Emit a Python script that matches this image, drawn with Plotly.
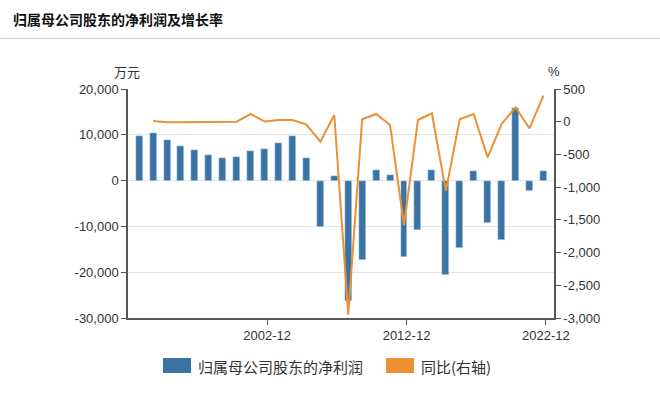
import plotly.graph_objects as go

# ---------------- data ----------------
periods = ["1993-12", "1994-12", "1995-12", "1996-12", "1997-12", "1998-12",
           "1999-12", "2000-12", "2001-12", "2002-12", "2003-12", "2004-12",
           "2005-12", "2006-12", "2007-12", "2008-12", "2009-12", "2010-12",
           "2011-12", "2012-12", "2013-12", "2014-12", "2015-12", "2016-12",
           "2017-12", "2018-12", "2019-12", "2020-12", "2021-12", "2022-12"]

net_profit = [9700, 10400, 8950, 7500, 6600, 5600,
              4950, 5200, 6550, 7000, 8300, 9750,
              4950, -10200, 1000, -26200, -17250, 2300,
              1250, -16700, -10700, 2300, -20700, -14800,
              2200, -9250, -12900, 15900, -2200, 2200]

yoy = [None, 10, -10, -10, -10, -10,
       -2, 0, 118, 5, 25, 25,
       -45, -306, 103, -2950, 37, 118,
       -50, -1580, 26, 128, -1060, 37,
       118, -545, -35, 220, -102, 398]

x_tick_labels = ["2002-12", "2012-12", "2022-12"]
left_tick_values = [-30000, -20000, -10000, 0, 10000, 20000]
right_tick_values = [-3000, -2500, -2000, -1500, -1000, -500, 0, 500]

title_text = "归属母公司股东的净利润及增长率"
left_unit = "万元"
right_unit = "%"
name_profit = "归属母公司股东的净利润"
name_yoy = "同比(右轴)"

# ---------------- style / layout ----------------
BLUE = "#3a74a5"
ORANGE = "#ec9035"
AXIS = "#555555"
GRID = "#e3e3e3"
TXT = "#333333"
CJK = "Noto Sans CJK SC"
LAT = "Liberation Sans, Noto Sans CJK SC"

W_PX, H_PX = 660, 403
L, R, T, B = 128, 554, 89, 318
PW, PH = R - L, B - T


def px(x):
    return (x - L) / PW


def py(y):
    return (B - y) / PH


xs = list(range(len(periods)))
tick_pos = [periods.index(t) + 0.18 for t in x_tick_labels]

fig = go.Figure()
fig.add_trace(go.Bar(x=xs, y=net_profit, name=name_profit, marker_color=BLUE,
                     width=0.5, showlegend=False))
fig.add_trace(go.Scatter(x=xs, y=yoy, name=name_yoy, yaxis="y2", mode="lines",
                         line=dict(color=ORANGE, width=2), showlegend=False,
                         connectgaps=False))

fig.update_layout(
    width=W_PX, height=H_PX,
    margin=dict(l=L, r=W_PX - R, t=T, b=H_PX - B, pad=0),
    paper_bgcolor="white", plot_bgcolor="white",
    font=dict(family=LAT, size=13, color=TXT),
    showlegend=False,
    bargap=0,
    xaxis=dict(range=[-0.8, len(periods) - 0.24], tickmode="array",
               tickvals=tick_pos, ticktext=x_tick_labels,
               showline=True, linecolor=AXIS, linewidth=1.5,
               ticks="outside", ticklen=5, tickcolor=AXIS, tickwidth=1,
               showgrid=False, zeroline=False,
               tickfont=dict(size=13, color=TXT)),
    yaxis=dict(range=[-30000, 20000], tickmode="array",
               tickvals=left_tick_values,
               ticktext=[f"{v:,}" for v in left_tick_values],
               showline=True, linecolor=AXIS, linewidth=1.5,
               ticks="outside", ticklen=5, tickcolor=AXIS,
               showgrid=True, gridcolor=GRID, gridwidth=1,
               zeroline=False, tickfont=dict(size=13, color=TXT)),
    yaxis2=dict(range=[-3000, 500], overlaying="y", side="right",
                tickmode="array", tickvals=right_tick_values,
                ticktext=[f"{v:,}" for v in right_tick_values],
                showline=True, linecolor=AXIS, linewidth=1.5,
                ticks="outside", ticklen=5, tickcolor=AXIS,
                showgrid=False, zeroline=False,
                tickfont=dict(size=13, color=TXT)),
)

shapes = [
    # header separator
    dict(type="line", xref="paper", yref="paper", x0=px(0), x1=px(W_PX),
         y0=py(38.5), y1=py(38.5), line=dict(color="#d9d9d9", width=1.5)),
    # legend swatches
    dict(type="rect", xref="paper", yref="paper", x0=px(163), x1=px(191),
         y0=py(373), y1=py(358), fillcolor=BLUE, line=dict(width=0)),
    dict(type="rect", xref="paper", yref="paper", x0=px(386), x1=px(414),
         y0=py(373), y1=py(358), fillcolor=ORANGE, line=dict(width=0)),
]

annotations = [
    dict(text=f"<b>{title_text}</b>", xref="paper", yref="paper",
         x=px(11), y=py(19), xanchor="left", yanchor="middle", showarrow=False,
         font=dict(family=CJK, size=14, color="#111111")),
    dict(text=left_unit, xref="paper", yref="paper", x=px(127), y=py(72),
         xanchor="center", yanchor="middle", showarrow=False,
         font=dict(family=CJK, size=13, color=TXT)),
    dict(text=right_unit, xref="paper", yref="paper", x=px(554), y=py(72),
         xanchor="center", yanchor="middle", showarrow=False,
         font=dict(family=LAT, size=13, color=TXT)),
    dict(text=name_profit, xref="paper", yref="paper", x=px(196), y=py(366),
         xanchor="left", yanchor="middle", showarrow=False,
         font=dict(family=CJK, size=15, color=TXT)),
    dict(text=name_yoy, xref="paper", yref="paper", x=px(419), y=py(366),
         xanchor="left", yanchor="middle", showarrow=False,
         font=dict(family=CJK, size=15, color=TXT)),
]

fig.update_layout(shapes=shapes, annotations=annotations)
fig.write_html("out.html", config={"displayModeBar": False},
               post_script="document.body.style.margin='0px';"
                           "document.body.style.padding='0px';")
